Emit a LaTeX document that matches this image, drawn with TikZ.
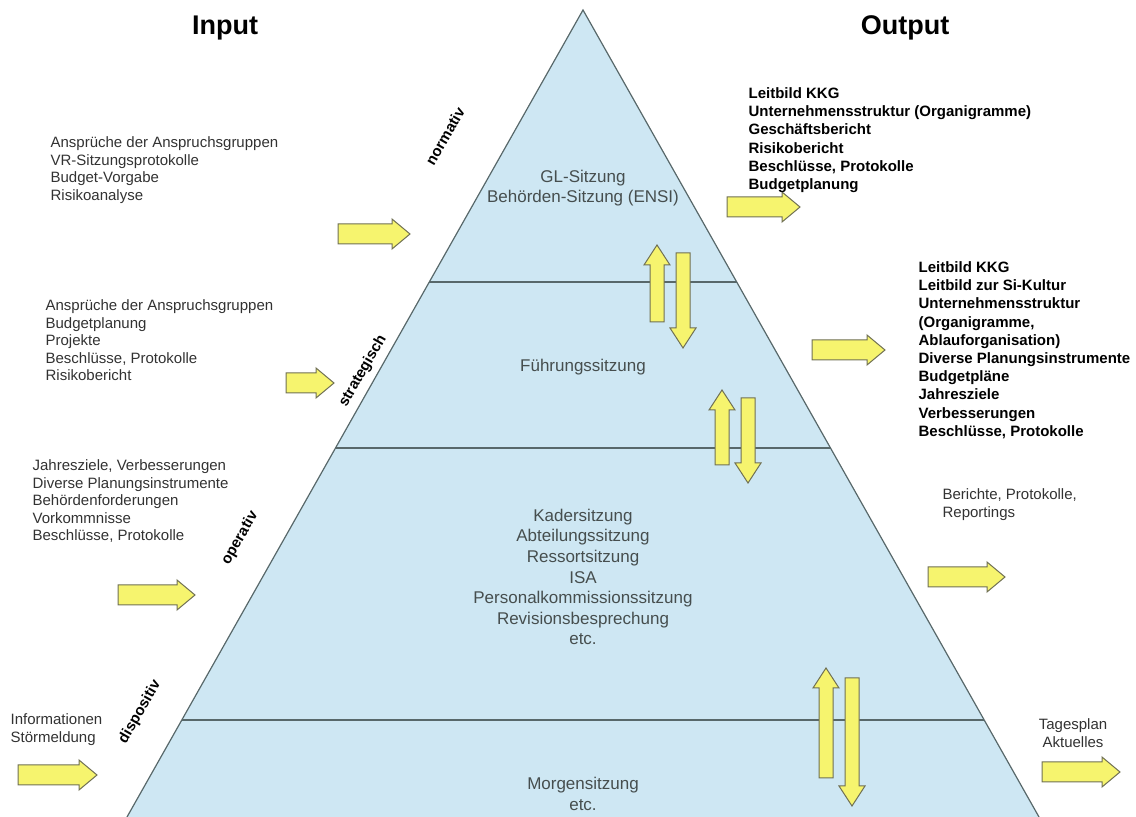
\documentclass[tikz,border=0pt]{standalone}
\usepackage{fontspec}
\setmainfont{Liberation Sans}

\definecolor{pyrblue}{RGB}{206,231,243}
\definecolor{pyrline}{RGB}{88,104,106}
\definecolor{arrfill}{RGB}{246,244,110}
\definecolor{arrline}{RGB}{112,112,84}
\definecolor{bandtxt}{RGB}{70,78,78}
\definecolor{intxt}{RGB}{50,50,50}

\tikzset{every picture/.style={line width=0.6pt}}
\tikzset{
  inlist/.style={anchor=north west, inner sep=0pt, align=left, text=intxt, font=\fontsize{7.5}{8.8}\selectfont},
  outlist/.style={anchor=north west, inner sep=0pt, align=left, font=\fontsize{7.5}{9.1}\selectfont\bfseries},
  bandtext/.style={inner sep=0pt, align=center, text=bandtxt, font=\fontsize{8.5}{10.3}\selectfont},
  levelname/.style={inner sep=0pt, rotate=60, font=\fontsize{7.5}{9}\selectfont\bfseries},
  heading/.style={inner sep=0pt, font=\fontsize{13.5}{16}\selectfont\bfseries},
  yarrow/.style={draw=arrline, fill=arrfill, line width=0.5pt, line join=miter},
}

\begin{document}
\begin{tikzpicture}[x=0.5pt,y=0.5pt,yscale=-1,xscale=1]
\path[use as bounding box] (0,0) rectangle (1136,817);

%Shape: Triangle [id:dp4410827365019284] 
\fill [pyrblue] (583,10) -- (1039,817) -- (127,817) -- cycle ;
\draw [color=pyrline] (127,817) -- (583,10) -- (1039,817) ;
%Straight Lines [id:da2093318475126658] 
\draw [color=pyrline] (429.3,282) -- (736.7,282) ;
%Straight Lines [id:da7721540365908113] 
\draw [color=pyrline] (335.5,448) -- (830.5,448) ;
%Straight Lines [id:da5306247719842291] 
\draw [color=pyrline] (181.8,720) -- (984.2,720) ;

%Right Arrow [id:dp8305516642971903] 
\draw [yarrow] (338,224) -- (392,224) -- (392,219) -- (410,234) -- (392,249) -- (392,244) -- (338,244) -- cycle ;
%Right Arrow [id:dp1958632047710388] 
\draw [yarrow] (286,373) -- (316,373) -- (316,368) -- (334,383) -- (316,398) -- (316,393) -- (286,393) -- cycle ;
%Right Arrow [id:dp6637290154829015] 
\draw [yarrow] (118,585) -- (177,585) -- (177,580) -- (195,595) -- (177,610) -- (177,605) -- (118,605) -- cycle ;
%Right Arrow [id:dp9023471166538107] 
\draw [yarrow] (18,765) -- (79,765) -- (79,760) -- (97,775) -- (79,790) -- (79,785) -- (18,785) -- cycle ;
%Right Arrow [id:dp3371508249961752] 
\draw [yarrow] (727,197) -- (782,197) -- (782,192) -- (800,207) -- (782,222) -- (782,217) -- (727,217) -- cycle ;
%Right Arrow [id:dp5182946073015529] 
\draw [yarrow] (812,340) -- (867,340) -- (867,335) -- (885,350) -- (867,365) -- (867,360) -- (812,360) -- cycle ;
%Right Arrow [id:dp2740186553390417] 
\draw [yarrow] (928,567) -- (987,567) -- (987,562) -- (1005,577) -- (987,592) -- (987,587) -- (928,587) -- cycle ;
%Right Arrow [id:dp7469315028113562] 
\draw [yarrow] (1042,762) -- (1102,762) -- (1102,757) -- (1120,772) -- (1102,787) -- (1102,782) -- (1042,782) -- cycle ;

%Up Arrow [id:dp6158204937721143] 
\draw [yarrow] (650,322) -- (650,265) -- (644,265) -- (657,245) -- (670,265) -- (664,265) -- (664,322) -- cycle ;
%Down Arrow [id:dp0835726194413256] 
\draw [yarrow] (676,253) -- (690,253) -- (690,328) -- (696,328) -- (683,348) -- (670,328) -- (676,328) -- cycle ;
%Up Arrow [id:dp4927360118853346] 
\draw [yarrow] (715,465) -- (715,410) -- (709,410) -- (722,390) -- (735,410) -- (729,410) -- (729,465) -- cycle ;
%Down Arrow [id:dp8814032675906217] 
\draw [yarrow] (741,398) -- (755,398) -- (755,463) -- (761,463) -- (748,483) -- (735,463) -- (741,463) -- cycle ;
%Up Arrow [id:dp3305918246672180] 
\draw [yarrow] (819,778) -- (819,688) -- (813,688) -- (826,668) -- (839,688) -- (833,688) -- (833,778) -- cycle ;
%Down Arrow [id:dp1472093865021539] 
\draw [yarrow] (845,678) -- (859,678) -- (859,786) -- (865,786) -- (852,806) -- (839,786) -- (845,786) -- cycle ;

% Text Node
\draw (225,28) node [heading] (input) {Input};
% Text Node
\draw (905,28) node [heading] (output) {Output};
% Text Node
\draw (445,136) node [levelname] (normativ) {normativ};
% Text Node
\draw (363,371) node [levelname] (strategisch) {strategisch};
% Text Node
\draw (240,538) node [levelname] (operativ) {operativ};
% Text Node
\draw (140,712) node [levelname] (dispositiv) {dispositiv};

% Text Node
\draw (583,188) node [bandtext] (glsitzung) {GL-Sitzung\\Behörden-Sitzung (ENSI)};
% Text Node
\draw (583,367) node [bandtext] (fuehrung) {Führungssitzung};
% Text Node
\draw (583,577) node [bandtext] (kader) {Kadersitzung\\Abteilungssitzung\\Ressortsitzung\\ISA\\Personalkommissionssitzung\\Revisionsbesprechung\\etc.};
% Text Node
\draw (583,794) node [bandtext] (morgen) {Morgensitzung\\etc.};

% Text Node
\draw (50,136) node [inlist] (inNorm) {Ansprüche der Anspruchsgruppen\\VR-Sitzungsprotokolle\\Budget-Vorgabe\\Risikoanalyse};
% Text Node
\draw (45,299) node [inlist] (inStrat) {Ansprüche der Anspruchsgruppen\\Budgetplanung\\Projekte\\Beschlüsse, Protokolle\\Risikobericht};
% Text Node
\draw (32,459) node [inlist] (inOper) {Jahresziele, Verbesserungen\\Diverse Planungsinstrumente\\Behördenforderungen\\Vorkommnisse\\Beschlüsse, Protokolle};
% Text Node
\draw (10,713) node [inlist] (inDisp) {Informationen\\Störmeldung};

% Text Node
\draw (748,87) node [outlist] (outNorm) {Leitbild KKG\\Unternehmensstruktur (Organigramme)\\Geschäftsbericht\\Risikobericht\\Beschlüsse, Protokolle\\Budgetplanung};
% Text Node
\draw (918,261) node [outlist] (outStrat) {Leitbild KKG\\Leitbild zur Si-Kultur\\Unternehmensstruktur\\(Organigramme,\\Ablauforganisation)\\Diverse Planungsinstrumente\\Budgetpläne\\Jahresziele\\Verbesserungen\\Beschlüsse, Protokolle};
% Text Node
\draw (942,488) node [inlist] (outOper) {Berichte, Protokolle,\\Reportings};
% Text Node
\draw (1073,718) node [inlist, anchor=north, align=center] (outDisp) {Tagesplan\\Aktuelles};

\end{tikzpicture}
\end{document}
